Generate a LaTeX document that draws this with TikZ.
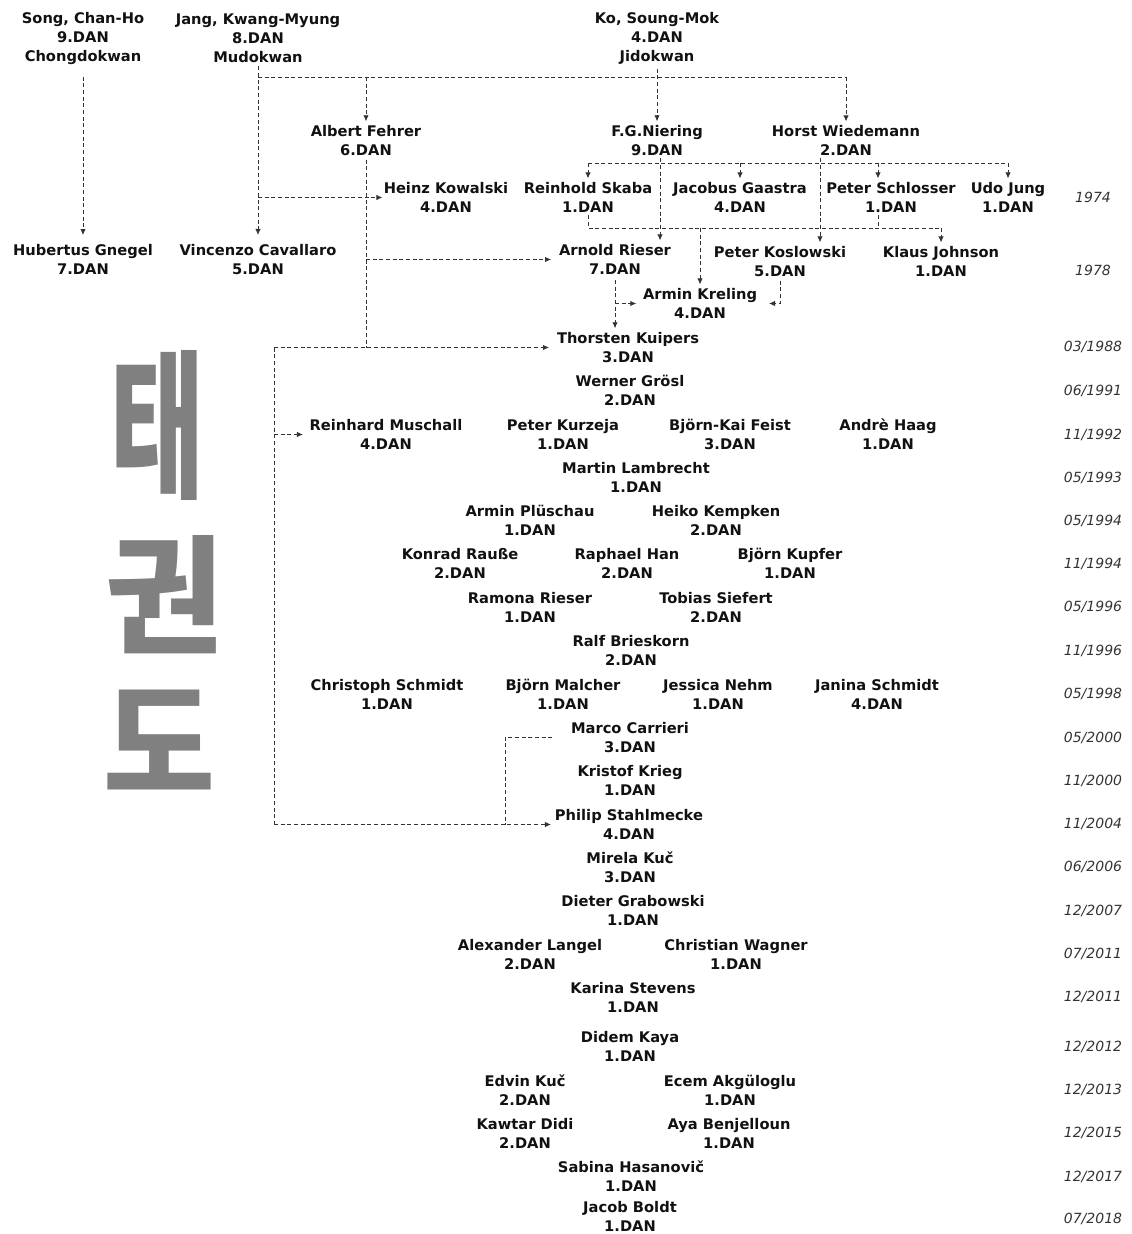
\documentclass[tikz,border=0pt]{standalone}
\usepackage{fontspec}
\setmainfont{DejaVu Sans}
\newfontfamily\krfont{Noto Sans CJK KR}
\usetikzlibrary{arrows.meta}
\definecolor{ink}{HTML}{111111}
\definecolor{lnk}{HTML}{333333}
\definecolor{dt}{HTML}{333333}
\definecolor{brush}{HTML}{808080}
\tikzset{
 person/.style={align=center, inner sep=0pt, outer sep=0pt, font=\fontsize{11}{14.25}\selectfont\bfseries, text=ink},
 yr/.style={inner sep=0pt, font=\fontsize{10.5}{12}\selectfont\itshape, text=dt},
 link/.style={draw=lnk, line width=0.6pt, dash pattern=on 3pt off 2pt},
 arr/.style={link, -{Latex[length=4.5pt,width=4pt]}, shorten >=3pt},
 hangul/.style={inner sep=0pt, text=brush, font=\krfont\bfseries\fontsize{96}{96}\selectfont}
}
\begin{document}
\begin{tikzpicture}[x=0.75pt,y=-0.75pt]
\useasboundingbox (0,0) rectangle (1131,1234);
% hangul
\node[hangul] (tae) at (158,425) {\scalebox{0.8}[1.25]{태}};
\node[hangul] (kwon) at (164,595) {권};
\node[hangul] (do) at (159,740) {\scalebox{0.95}[1]{도}};
% people
\node[person] (song) at (83,38.5) {Song, Chan-Ho\\9.DAN\\Chongdokwan};
\node[person] (jang) at (258,38) {Jang, Kwang-Myung\\8.DAN\\Mudokwan};
\node[person] (ko) at (657,38.5) {Ko, Soung-Mok\\4.DAN\\Jidokwan};
\node[person] (fehrer) at (366,140.5) {Albert Fehrer\\6.DAN};
\node[person] (niering) at (657,140.5) {F.G.Niering\\9.DAN};
\node[person] (wiedemann) at (846,140.5) {Horst Wiedemann\\2.DAN};
\node[person] (kowalski) at (446,197.5) {Heinz Kowalski\\4.DAN};
\node[person] (skaba) at (588,197.5) {Reinhold Skaba\\1.DAN};
\node[person] (gaastra) at (740,197.5) {Jacobus Gaastra\\4.DAN};
\node[person] (schlosser) at (891,197.5) {Peter Schlosser\\1.DAN};
\node[person] (jung) at (1008,197.5) {Udo Jung\\1.DAN};
\node[person] (gnegel) at (83,259.5) {Hubertus Gnegel\\7.DAN};
\node[person] (cavallaro) at (258,259.5) {Vincenzo Cavallaro\\5.DAN};
\node[person] (rieser) at (615,259.5) {Arnold Rieser\\7.DAN};
\node[person] (koslowski) at (780,261.5) {Peter Koslowski\\5.DAN};
\node[person] (johnson) at (941,261.5) {Klaus Johnson\\1.DAN};
\node[person] (kreling) at (700,303.5) {Armin Kreling\\4.DAN};
\node[person] (kuipers) at (628,347.5) {Thorsten Kuipers\\3.DAN};
\node[person] (groesl) at (630,390.5) {Werner Grösl\\2.DAN};
\node[person] (muschall) at (386,434.5) {Reinhard Muschall\\4.DAN};
\node[person] (kurzeja) at (563,434.5) {Peter Kurzeja\\1.DAN};
\node[person] (feist) at (730,434.5) {Björn-Kai Feist\\3.DAN};
\node[person] (haag) at (888,434.5) {Andrè Haag\\1.DAN};
\node[person] (lambrecht) at (636,477.5) {Martin Lambrecht\\1.DAN};
\node[person] (plueschau) at (530,520.5) {Armin Plüschau\\1.DAN};
\node[person] (kempken) at (716,520.5) {Heiko Kempken\\2.DAN};
\node[person] (rausse) at (460,563.5) {Konrad Rauße\\2.DAN};
\node[person] (han) at (627,563.5) {Raphael Han\\2.DAN};
\node[person] (kupfer) at (790,563.5) {Björn Kupfer\\1.DAN};
\node[person] (rrieser) at (530,607.5) {Ramona Rieser\\1.DAN};
\node[person] (siefert) at (716,607.5) {Tobias Siefert\\2.DAN};
\node[person] (brieskorn) at (631,650.5) {Ralf Brieskorn\\2.DAN};
\node[person] (cschmidt) at (387,694.5) {Christoph Schmidt\\1.DAN};
\node[person] (malcher) at (563,694.5) {Björn Malcher\\1.DAN};
\node[person] (nehm) at (718,694.5) {Jessica Nehm\\1.DAN};
\node[person] (jschmidt) at (877,694.5) {Janina Schmidt\\4.DAN};
\node[person] (carrieri) at (630,737.5) {Marco Carrieri\\3.DAN};
\node[person] (krieg) at (630,780.5) {Kristof Krieg\\1.DAN};
\node[person] (stahlmecke) at (629,824.5) {Philip Stahlmecke\\4.DAN};
\node[person] (kuc) at (630,867.5) {Mirela Kuč\\3.DAN};
\node[person] (grabowski) at (633,910.5) {Dieter Grabowski\\1.DAN};
\node[person] (langel) at (530,954.5) {Alexander Langel\\2.DAN};
\node[person] (wagner) at (736,954.5) {Christian Wagner\\1.DAN};
\node[person] (stevens) at (633,997.5) {Karina Stevens\\1.DAN};
\node[person] (kaya) at (630,1046) {Didem Kaya\\1.DAN};
\node[person] (ekuc) at (525,1090) {Edvin Kuč\\2.DAN};
\node[person] (akguloglu) at (730,1090) {Ecem Akgüloglu\\1.DAN};
\node[person] (didi) at (525,1133) {Kawtar Didi\\2.DAN};
\node[person] (benjelloun) at (729,1133) {Aya Benjelloun\\1.DAN};
\node[person] (hasanovic) at (631,1176.5) {Sabina Hasanovič\\1.DAN};
\node[person] (boldt) at (630,1216.5) {Jacob Boldt\\1.DAN};
% dates
\node[yr] (d1) at (1093,197) {1974};
\node[yr] (d2) at (1093,270) {1978};
\node[yr] (d3) at (1093,347) {03/1988};
\node[yr] (d4) at (1093,391) {06/1991};
\node[yr] (d5) at (1093,435) {11/1992};
\node[yr] (d6) at (1093,478) {05/1993};
\node[yr] (d7) at (1093,521) {05/1994};
\node[yr] (d8) at (1093,564) {11/1994};
\node[yr] (d9) at (1093,607) {05/1996};
\node[yr] (d10) at (1093,651) {11/1996};
\node[yr] (d11) at (1093,694) {05/1998};
\node[yr] (d12) at (1093,738) {05/2000};
\node[yr] (d13) at (1093,781) {11/2000};
\node[yr] (d14) at (1093,824) {11/2004};
\node[yr] (d15) at (1093,867) {06/2006};
\node[yr] (d16) at (1093,911) {12/2007};
\node[yr] (d17) at (1093,954) {07/2011};
\node[yr] (d18) at (1093,997) {12/2011};
\node[yr] (d19) at (1093,1047) {12/2012};
\node[yr] (d20) at (1093,1090) {12/2013};
\node[yr] (d21) at (1093,1133) {12/2015};
\node[yr] (d22) at (1093,1177) {12/2017};
\node[yr] (d23) at (1093,1219) {07/2018};
% helper coordinates
\coordinate (busA) at (0,77);
\coordinate (busB) at (0,163);
\coordinate (busC) at (0,228);
\coordinate (lft) at (274,0);
\coordinate (hx) at (820,0);
\coordinate (sx) at (878,0);
\coordinate (mx) at (505,0);
\coordinate (nx) at (660,0);
% connectors
\draw[arr, shorten <=9pt, shorten >=7pt] (song.south) -- (gnegel.north);
\draw[arr, shorten <=3pt, shorten >=7pt] (jang.south) -- (cavallaro.north);
\draw[link] (jang |- busA) -- (wiedemann |- busA);
\draw[arr] (wiedemann |- busA) -- (wiedemann.north);
\draw[arr] (fehrer |- busA) -- (fehrer.north);
\draw[arr, shorten <=3pt] (ko.south) -- (niering.north);
\draw[arr, shorten >=1pt] (jang |- kowalski.west) -- (kowalski.west);
\draw[link, shorten <=3pt] (fehrer.south) -- (fehrer |- kuipers.west);
\draw[arr, shorten >=6pt] (fehrer |- rieser.west) -- (rieser.west);
\draw[arr, shorten >=6pt] (lft |- kuipers.west) -- (kuipers.west);
\draw[link] (lft |- kuipers.west) -- (lft |- stahlmecke.west);
\draw[arr] (lft |- stahlmecke.west) -- (stahlmecke.west);
\draw[arr, shorten >=5pt] (lft |- muschall.west) -- (muschall.west);
\draw[link, shorten <=14pt] (carrieri.west) -- (mx |- carrieri.west) -- (mx |- stahlmecke.west);
\draw[link] (skaba |- busB) -- (jung |- busB);
\draw[arr] (skaba |- busB) -- (skaba.north);
\draw[arr] (gaastra |- busB) -- (gaastra.north);
\draw[arr] (sx |- busB) -- (sx |- schlosser.north);
\draw[arr] (jung |- busB) -- (jung.north);
\draw[arr, shorten <=2pt] (nx |- niering.south) -- (nx |- rieser.north);
\draw[arr, shorten <=2pt] (hx |- wiedemann.south) -- (hx |- koslowski.north);
\draw[link, shorten <=2pt] (skaba.south) -- (skaba |- busC) -- (johnson |- busC);
\draw[arr] (johnson |- busC) -- (johnson.north);
\draw[link, shorten <=2pt] (sx |- schlosser.south) -- (sx |- busC);
\draw[arr] (kreling |- busC) -- (kreling.north);
\draw[arr, shorten <=4pt] (rieser.south) -- (rieser.south |- kuipers.north);
\draw[arr, shorten >=5pt] (rieser.south |- kreling.west) -- (kreling.west);
\draw[arr, shorten <=3pt, shorten >=9pt] (koslowski.south) -- (koslowski.south |- kreling.east) -- (kreling.east);
\end{tikzpicture}
\end{document}
